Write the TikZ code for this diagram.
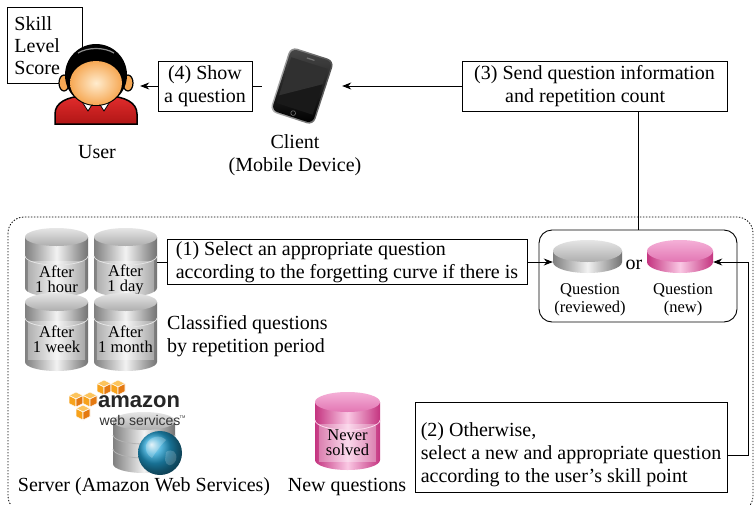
\documentclass[tikz,border=0pt]{standalone}
\usepackage{fontspec}
\setmainfont{Liberation Serif}
\newfontfamily\awsfont{Liberation Sans}
\usetikzlibrary{arrows.meta,calc}

\definecolor{dbpinkdark}{RGB}{196,52,128}
\definecolor{dbpinklight}{RGB}{250,200,228}
\definecolor{dbpinktop}{RGB}{236,140,196}
\definecolor{awsorange}{RGB}{247,162,27}
\definecolor{awsorangedark}{RGB}{228,121,17}
\definecolor{awsorangelight}{RGB}{252,196,92}
\definecolor{shirtred}{RGB}{226,44,44}
\definecolor{shirtdark}{RGB}{176,22,22}
\definecolor{skinlight}{RGB}{255,236,206}
\definecolor{skindark}{RGB}{246,168,84}
\definecolor{globeblue}{RGB}{34,160,210}

\tikzset{
  stepbox/.style={draw, line width=0.9pt, fill=white, inner sep=0pt,
    font=\fontsize{20}{23}\selectfont},
  plain/.style={font=\fontsize{20}{23}\selectfont, inner sep=0pt, align=center},
  smalltxt/.style={font=\fontsize{16.5}{18}\selectfont, inner sep=0pt, align=center},
  dbtxt/.style={font=\fontsize{16.5}{15}\selectfont, inner sep=0pt, align=center},
  link/.style={line width=0.9pt},
  arr/.style={line width=0.9pt, -{Stealth[length=9pt,width=7pt]}},
  hotspot/.style={inner sep=0pt, minimum width=#1},
  frame/.style={line width=0.8pt, dash pattern=on 1.4pt off 1.6pt, rounded corners=16pt},
  gray side/.style={left color=black!50, right color=black!55, middle color=black!5},
  gray top/.style={top color=black!10, bottom color=black!32},
  pink side/.style={left color=dbpinkdark, right color=dbpinkdark, middle color=dbpinklight},
  pink top/.style={top color=dbpinklight!60!dbpinktop, bottom color=dbpinktop!75!dbpinkdark},
  panel/.style={fill=white, opacity=0.32},
}

% cylinder: centre x, top-ellipse centre y, x radius, body height, y radius, colour scheme
\newcommand\dbbody[6]{%
  \shade[#6 side] ({#1-#3},{#2}) -- ({#1-#3},{#2+#4})
     arc[start angle=180, end angle=360, x radius=#3pt, y radius=#5pt]
     -- ({#1+#3},{#2}) -- cycle;
  \shade[#6 top] (#1,#2) ellipse[x radius=#3pt, y radius=#5pt];
}
% seam line across a cylinder: centre x, y, x radius, y radius, colour
\newcommand\dbseam[5]{%
  \draw[#5, line width=0.8pt] ({#1-#3},{#2})
     arc[start angle=180, end angle=360, x radius=#3pt, y radius=#4pt];
}
% one isometric cube of the logo
\newcommand\awscube[2]{%
  \filldraw[awsorangelight, draw=white, line width=0.6pt] (#1,{#2-7}) -- ({#1+7},{#2-3.5}) -- (#1,#2) -- ({#1-7},{#2-3.5}) -- cycle;
  \filldraw[awsorange, draw=white, line width=0.6pt] ({#1-7},{#2-3.5}) -- (#1,#2) -- (#1,{#2+8}) -- ({#1-7},{#2+4.5}) -- cycle;
  \filldraw[awsorangedark, draw=white, line width=0.6pt] (#1,#2) -- ({#1+7},{#2-3.5}) -- ({#1+7},{#2+4.5}) -- (#1,{#2+8}) -- cycle;
}

\begin{document}
\begin{tikzpicture}[x=1pt, y=-1pt]
\useasboundingbox (0,0) rectangle (755,504);
\fill[white] (0,0) rectangle (755,504);

% ---------------- user ----------------
\node[stepbox, anchor=north west, align=left, inner xsep=7pt, text width=61pt,
      minimum height=76pt, font=\fontsize{20}{22}\selectfont] (score) at (7,7)
      {Skill\\Level\\Score};
\foreach \ex in {64,128}
  \filldraw[fill=skindark, draw=black, line width=1.2pt] (\ex,83) ellipse[x radius=5pt, y radius=8pt];
\shadedraw[top color=shirtred, bottom color=shirtdark, draw=black, line width=1.5pt]
  (55,124) -- (55,114) .. controls (55,102) and (68,97) .. (82,96) -- (110,96)
  .. controls (124,97) and (137,102) .. (137,114) -- (137,124) -- cycle;
\filldraw[fill=white, draw=black, line width=0.8pt] (79,97) -- (95,100) -- (88,111) -- cycle;
\filldraw[fill=white, draw=black, line width=0.8pt] (113,97) -- (97,100) -- (104,111) -- cycle;
\fill[black] (96,75) ellipse[x radius=31pt, y radius=31pt];
\begin{scope}
  \clip (62,68) .. controls (78,56) and (114,56) .. (130,68) -- (130,112) -- (62,112) -- cycle;
  \shade[inner color=skinlight, outer color=skindark] (96,83) ellipse[x radius=26pt, y radius=22pt];
\end{scope}
\draw[black!45, line width=1.2pt] (78,53) .. controls (88,47) and (104,47) .. (114,53);
\node[hotspot=88pt, minimum height=80pt] (user) at (96,86) {};
\node[plain] (userlbl) at (97,152) {User};

% ---------------- client ----------------
\begin{scope}[shift={(302,86)}, rotate=-18]
  \shade[rounded corners=7pt, left color=black!30, right color=black!70] (-23,-34) rectangle (23,34);
  \shade[rounded corners=6pt, top color=black!72, bottom color=black] (-21.5,-32.5) rectangle (21.5,32.5);
  \fill[black!90] (-19,-24) rectangle (19,24);
  \fill[white, opacity=0.10] (-19,-24) -- (19,-24) -- (19,-8) -- (-19,16) -- cycle;
  \draw[black!55, line width=0.6pt] (0,28.5) circle[radius=2.4pt];
  \fill[black!55] (-4,-28.8) rectangle (4,-27.6);
\end{scope}
\node[hotspot=80pt, minimum height=80pt] (phone) at (302,86) {};
\node[plain] (clientlbl) at (295,155) {Client\\(Mobile Device)};

% ---------------- messages between client and user ----------------
\node[stepbox, align=center, minimum width=94pt, minimum height=50pt] (s4) at (205,86)
  {(4) Show\\a question};
\node[stepbox, align=left, minimum width=265pt, minimum height=50pt] (s3) at (594.5,86)
  {(3) Send question information\\\hspace*{31pt}and repetition count};

% ---------------- server area ----------------
\draw[frame] (8,217) rectangle (753,512);

% classified question stores
\dbbody{56.5}{237}{31.5}{51}{9}{gray}
\dbseam{56.5}{256}{31.5}{9}{white!85!black}
\fill[panel] (28,261) rectangle (85,296);
\node[dbtxt, minimum width=63pt] (c1h) at (56.5,279.5) {After\\1 hour};
\dbbody{125.5}{237}{31.5}{51}{9}{gray}
\dbseam{125.5}{256}{31.5}{9}{white!85!black}
\fill[panel] (97,261) rectangle (154,296);
\node[dbtxt, minimum width=63pt] (c1d) at (125.5,279.5) {After\\1 day};
\dbbody{56.5}{302}{31.5}{60}{9}{gray}
\dbseam{56.5}{318}{31.5}{9}{white!85!black}
\fill[panel] (28,321) rectangle (85,360);
\node[dbtxt, minimum width=63pt] (c1w) at (56.5,339.5) {After\\1 week};
\dbbody{125.5}{302}{31.5}{60}{9}{gray}
\dbseam{125.5}{318}{31.5}{9}{white!85!black}
\fill[panel] (97,321) rectangle (154,360);
\node[dbtxt, minimum width=63pt] (c1m) at (125.5,339.5) {After\\1 month};
\node[plain, align=left, anchor=west] (classlbl) at (167,336)
  {Classified questions\\by repetition period};

% step (1)
\node[stepbox, align=left, minimum width=360pt, minimum height=45pt] (s1) at (347,262)
  {(1) Select an appropriate question\\according to the forgetting curve if there is};

% chosen question
\node[draw, line width=0.9pt, rounded corners=13pt, minimum width=198pt, minimum height=92pt] (qbox) at (638,276) {};
\dbbody{587.5}{251}{34.5}{11}{11}{gray}
\dbbody{680}{251}{33}{11}{11}{pink}
\node[hotspot=69pt, minimum height=30pt] (qrev) at (587.5,262) {};
\node[hotspot=66pt, minimum height=30pt] (qnew) at (680,262) {};
\node[plain] (orlbl) at (634,265) {or};
\node[smalltxt] (qrevlbl) at (590,300) {Question\\(reviewed)};
\node[smalltxt] (qnewlbl) at (683,300) {Question\\(new)};

% server with logo
\awscube{104}{387}
\awscube{118}{387}
\awscube{76}{399}
\awscube{90}{399}
\awscube{83}{412}
\dbbody{144}{421}{31}{43}{9}{gray}
\dbseam{144}{435}{31}{9}{black!30}
\dbseam{144}{449}{31}{9}{black!30}
\shade[ball color=globeblue] (160,453) circle[radius=22pt];
\fill[white, opacity=0.22] (146,445) .. controls (150,436) and (160,434) .. (166,440)
  .. controls (160,446) and (156,452) .. (152,458) .. controls (147,455) and (145,450) .. (146,445) -- cycle;
\fill[white, opacity=0.18] (166,452) .. controls (172,448) and (178,452) .. (176,460)
  .. controls (172,468) and (166,466) .. (165,460) -- cycle;
\node[inner sep=0pt, font=\awsfont\bfseries\fontsize{22}{22}\selectfont, text=black!85] (awsname) at (139,401.5) {amazon};
\node[inner sep=0pt, font=\awsfont\fontsize{14}{14}\selectfont, text=black!80] (awssub) at (140,420) {web services};
\node[inner sep=0pt, font=\awsfont\fontsize{4}{4}\selectfont, text=black!80] (awstm) at (182.5,417) {TM};
\node[plain] (serverlbl) at (144,487) {Server (Amazon Web Services)};

% new question store
\dbbody{347.5}{402}{32.5}{58}{10}{pink}
\dbseam{347.5}{420}{32.5}{10}{dbpinklight}
\fill[panel] (319,424) rectangle (376,462);
\node[dbtxt, minimum width=65pt] (never) at (347.5,442.5) {Never\\solved};
\node[plain] (newlbl) at (347,487) {New questions};

% step (2)
\node[stepbox, align=left, minimum width=312pt, minimum height=90pt] (s2) at (571,447)
  {\rule{0pt}{30pt}(2) Otherwise,\\select a new and appropriate question\\according to the user’s skill point};

% ---------------- connectors ----------------
\draw[link] (phone.west) -- (s4.east);
\draw[arr] (s4.west) -- (user.east);
\draw[arr] (s3.west) -- (phone.east);
\draw[link] (qbox.north) -- (qbox.north |- s3.south);
\draw[link] (c1d.east |- s1.west) -- (s1.west);
\draw[arr] (s1.east) -- (s1.east -| qrev.west);
\coordinate (turn) at (748,455);
\draw[arr] (s2.east |- turn) -- (turn) |- (qnew.east);
\end{tikzpicture}
\end{document}
